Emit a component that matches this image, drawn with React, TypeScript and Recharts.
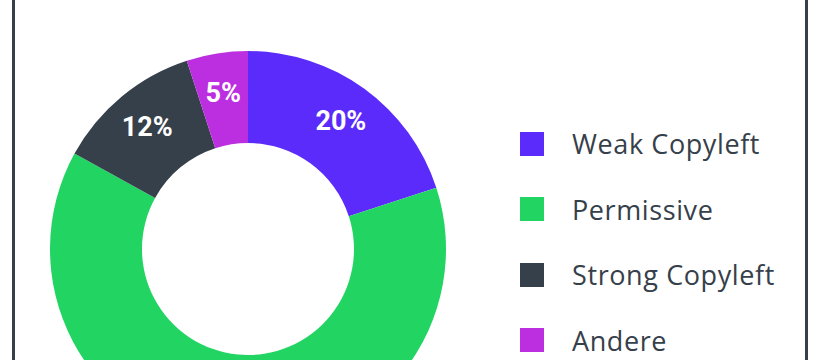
import { Cell, Legend, Pie, PieChart } from "recharts";

const categories = ["Weak Copyleft", "Permissive", "Strong Copyleft", "Andere"];
const shares = [20, 63, 12, 5];
const colors = ["#5b2bfb", "#22d563", "#36404a", "#bc2fe0"];

const data = categories.map((name, i) => ({ name, value: shares[i] }));

const RAD = Math.PI / 180;

function SliceLabel(props: any) {
  const { cx, cy, midAngle, outerRadius, value } = props;
  const r = outerRadius - 40;
  const x = cx + r * Math.cos(-midAngle * RAD);
  const y = cy + r * Math.sin(-midAngle * RAD);
  return (
    <text
      x={x}
      y={y}
      fill="#ffffff"
      textAnchor="middle"
      dominantBaseline="central"
      fontFamily="Roboto, sans-serif"
      fontWeight={700}
      fontSize={27}
    >
      {`${value}%`}
    </text>
  );
}

function LegendList() {
  return (
    <ul style={{ listStyle: "none", margin: 0, padding: 0 }}>
      {categories.map((name, i) => (
        <li
          key={name}
          style={{ display: "flex", alignItems: "center", height: 65.5 }}
        >
          <span
            style={{
              width: 24,
              height: 24,
              background: colors[i],
              marginRight: 28,
              flex: "none",
            }}
          />
          <span
            style={{
              fontFamily: "'Open Sans', sans-serif",
              fontSize: 27,
              letterSpacing: 0.6,
              color: "#36404a",
              whiteSpace: "nowrap",
            }}
          >
            {name}
          </span>
        </li>
      ))}
    </ul>
  );
}

export default function App() {
  return (
    <div
      style={{
        position: "absolute",
        left: 0,
        top: 0,
        width: 820,
        height: 360,
        overflow: "hidden",
        background: "#ffffff",
      }}
    >
      <div
        style={{
          position: "absolute",
          left: 12,
          top: -60,
          width: 790,
          height: 480,
          border: "3px solid #36404a",
        }}
      />
      <div style={{ position: "absolute", left: 0, top: 0 }}>
        <PieChart width={820} height={360}>
          <Pie
            data={data}
            dataKey="value"
            nameKey="name"
            cx={243}
            cy={244}
            innerRadius={106}
            outerRadius={198}
            startAngle={90}
            endAngle={-270}
            stroke="none"
            label={SliceLabel}
            labelLine={false}
            isAnimationActive={false}
          >
            {data.map((d, i) => (
              <Cell key={d.name} fill={colors[i]} />
            ))}
          </Pie>
          <Legend
            content={() => <LegendList />}
            layout="vertical"
            wrapperStyle={{ left: 520, top: 111, width: 290 }}
          />
        </PieChart>
      </div>
    </div>
  );
}
